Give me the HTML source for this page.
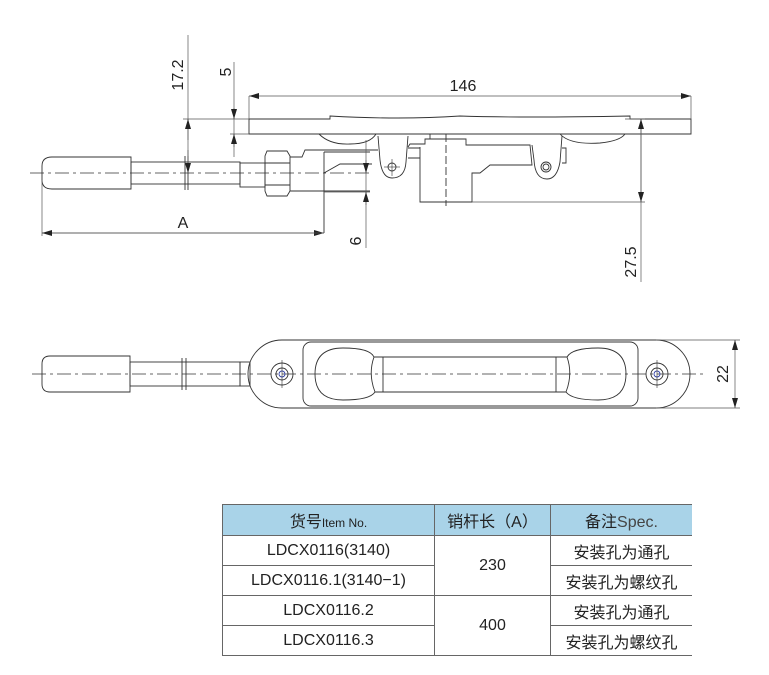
<!DOCTYPE html>
<html><head><meta charset="utf-8"><style>
html,body{margin:0;padding:0;background:#fff;}
body{width:769px;height:675px;position:relative;overflow:hidden;}
svg{position:absolute;left:0;top:0;}
table{position:absolute;left:222px;top:504px;border-collapse:collapse;font-family:"Liberation Sans","Noto Sans CJK SC",sans-serif;font-size:16px;color:#222;}
td{border:1px solid #666;text-align:center;padding:0;height:29px;white-space:nowrap;}
tr.h td{background:#a9d3e8;height:30px;}
td.r{border-right:none;}
small{font-size:12px;}
</style></head><body>
<svg width="769" height="675" viewBox="0 0 769 675" font-family="Liberation Sans, sans-serif" fill="none" stroke="#333" stroke-width="0.9">
<defs><marker id="a" markerWidth="10" markerHeight="6" refX="10" refY="3" orient="auto" markerUnits="userSpaceOnUse"><path d="M0,0 L10,3 L0,6z" fill="#222" stroke="none"/></marker></defs>
<g stroke="#333">
<line x1="30" y1="173" x2="372" y2="173" stroke-dasharray="14,4,3,4" stroke-width="0.8"/>
<path d="M52,157 H131 V189 H52 Q42,189 42,180 V166 Q42,157 52,157Z"/>
<rect x="131" y="162" width="109" height="22"/>
<line x1="185" y1="156" x2="185" y2="190"/><line x1="188" y1="156" x2="188" y2="190"/>
<rect x="240" y="163" width="25" height="24"/>
<path d="M267,151 H287 L290,156 V191 L287,196 H267 L265,191 V156Z"/>
<line x1="265" y1="163" x2="290" y2="163"/><line x1="265" y1="185" x2="290" y2="185"/>
<path d="M290,157 H302 L305,150 H378"/>
<path d="M290,191 H370"/>
<path d="M324,152 H370 M324,152 V233 M324,173 L340,164 H372"/>
<path d="M249,119 H330 V116 Q400,120 460,116 Q520,118 630,116 V119 H691 V134 H249Z"/>
<path d="M319,134 Q330,145 350,144 Q370,144 376,134"/>
<path d="M560,134 Q570,145 600,143 Q620,141 625,134"/>
<path d="M378,136 L380,160 Q382,178 392,178 Q405,178 406,162 L408,136"/>
<circle cx="392" cy="167" r="4"/><line x1="384" y1="167" x2="400" y2="167" stroke-width="0.6"/><line x1="392" y1="159" x2="392" y2="176" stroke-width="0.6"/>
<path d="M408,148 H420 M408,158 H420"/>
<path d="M408,147 L410,144 H425 V139 H466 V145 H530 L532,165 H490 L480,173 H472 V202 H420 V147"/>
<line x1="446" y1="134" x2="446" y2="206" stroke-dasharray="8,3"/>
<line x1="430" y1="134" x2="430" y2="139"/>
<path d="M532,145 L534,160 Q535,179 547,179 Q557,179 560,162 L562,136"/>
<circle cx="546" cy="167" r="5"/><circle cx="546" cy="167" r="3"/>
<path d="M562,148 H566 V163 H562"/>
</g>
<g stroke="#555" stroke-width="0.7">
<line x1="249" y1="96" x2="249" y2="119"/><line x1="691" y1="96" x2="691" y2="119"/>
<line x1="260" y1="96" x2="249" y2="96" marker-end="url(#a)"/>
<line x1="260" y1="96" x2="691" y2="96" marker-end="url(#a)"/>
<line x1="188" y1="35" x2="188" y2="173"/>
<line x1="183" y1="119" x2="249" y2="119"/>
<line x1="188" y1="140" x2="188" y2="119" marker-end="url(#a)"/>
<line x1="188" y1="150" x2="188" y2="173" marker-end="url(#a)"/>
<line x1="234" y1="62" x2="234" y2="157"/>
<line x1="230" y1="134" x2="249" y2="134"/>
<line x1="234" y1="108" x2="234" y2="119" marker-end="url(#a)"/>
<line x1="234" y1="147" x2="234" y2="134" marker-end="url(#a)"/>
<line x1="42" y1="180" x2="42" y2="236"/>
<line x1="42" y1="233" x2="324" y2="233" marker-end="url(#a)"/>
<line x1="324" y1="233" x2="42" y2="233" marker-end="url(#a)"/>
<line x1="370" y1="192" x2="324" y2="192"/>
<line x1="366" y1="140" x2="366" y2="248"/>
<line x1="366" y1="160" x2="366" y2="173" marker-end="url(#a)"/>
<line x1="366" y1="205" x2="366" y2="192" marker-end="url(#a)"/>
<line x1="625" y1="119" x2="645" y2="119"/><line x1="472" y1="202" x2="645" y2="202"/>
<line x1="641" y1="119" x2="641" y2="282"/>
<line x1="641" y1="160" x2="641" y2="119" marker-end="url(#a)"/>
<line x1="641" y1="160" x2="641" y2="202" marker-end="url(#a)"/>
</g>
<g fill="#222" stroke="none" font-size="16">
<text x="463" y="91" text-anchor="middle">146</text>
<text x="183" y="228" text-anchor="middle">A</text>
<text transform="translate(183,75) rotate(-90)" text-anchor="middle">17.2</text>
<text transform="translate(231,72) rotate(-90)" text-anchor="middle">5</text>
<text transform="translate(361,241) rotate(-90)" text-anchor="middle">6</text>
<text transform="translate(636,262) rotate(-90)" text-anchor="middle">27.5</text>
<text transform="translate(728,374) rotate(-90)" text-anchor="middle">22</text>
</g>
<g stroke="#333">
<line x1="32" y1="374" x2="705" y2="374" stroke-dasharray="14,4,3,4" stroke-width="0.8"/>
<path d="M50,356 H130 V392 H50 Q42,392 42,384 V364 Q42,356 50,356Z"/>
<rect x="130" y="362" width="110" height="24"/>
<line x1="182" y1="358" x2="182" y2="390"/><line x1="186" y1="358" x2="186" y2="390"/>
<rect x="240" y="362" width="10" height="24"/>
<path d="M282,340 H656 A34,34 0 0 1 656,408 H282 A34,34 0 0 1 282,340Z"/>
<rect x="303" y="342" width="335" height="64" rx="8"/>
<path d="M343,348 Q315,348 315,374 Q315,400 343,400 Q370,400 375,392 Q368,374 374,357 Q370,348 343,348Z"/>
<path d="M598,348 Q626,348 626,374 Q626,400 598,400 Q572,400 566,392 Q573,374 567,357 Q572,348 598,348Z"/>
<path d="M374,357 H567 M375,392 H566 M383,357 V392 M556,357 V392"/>
<circle cx="282" cy="374" r="11"/><circle cx="282" cy="374" r="6"/><circle cx="282" cy="374" r="3" stroke="#34a"/>
<circle cx="657" cy="374" r="11"/><circle cx="657" cy="374" r="6"/><circle cx="657" cy="374" r="3" stroke="#34a"/>
<line x1="282" y1="360" x2="282" y2="388" stroke-width="0.6"/><line x1="657" y1="360" x2="657" y2="388" stroke-width="0.6"/>
</g>
<g stroke="#555" stroke-width="0.7">
<line x1="656" y1="340" x2="740" y2="340"/><line x1="656" y1="408" x2="740" y2="408"/>
<line x1="735" y1="374" x2="735" y2="340" marker-end="url(#a)"/>
<line x1="735" y1="374" x2="735" y2="408" marker-end="url(#a)"/>
</g>
</svg>
<table>
<tr class="h"><td style="width:211px">货号<small>Item No.</small></td><td style="width:115px">销杆长（A）</td><td class="r" style="width:141px">备注<span style="color:#444">Spec.</span></td></tr>
<tr><td>LDCX0116(3140)</td><td rowspan="2">230</td><td class="r">安装孔为通孔</td></tr>
<tr><td>LDCX0116.1(3140−1)</td><td class="r">安装孔为螺纹孔</td></tr>
<tr><td>LDCX0116.2</td><td rowspan="2">400</td><td class="r">安装孔为通孔</td></tr>
<tr><td>LDCX0116.3</td><td class="r">安装孔为螺纹孔</td></tr>
</table>
</body></html>
